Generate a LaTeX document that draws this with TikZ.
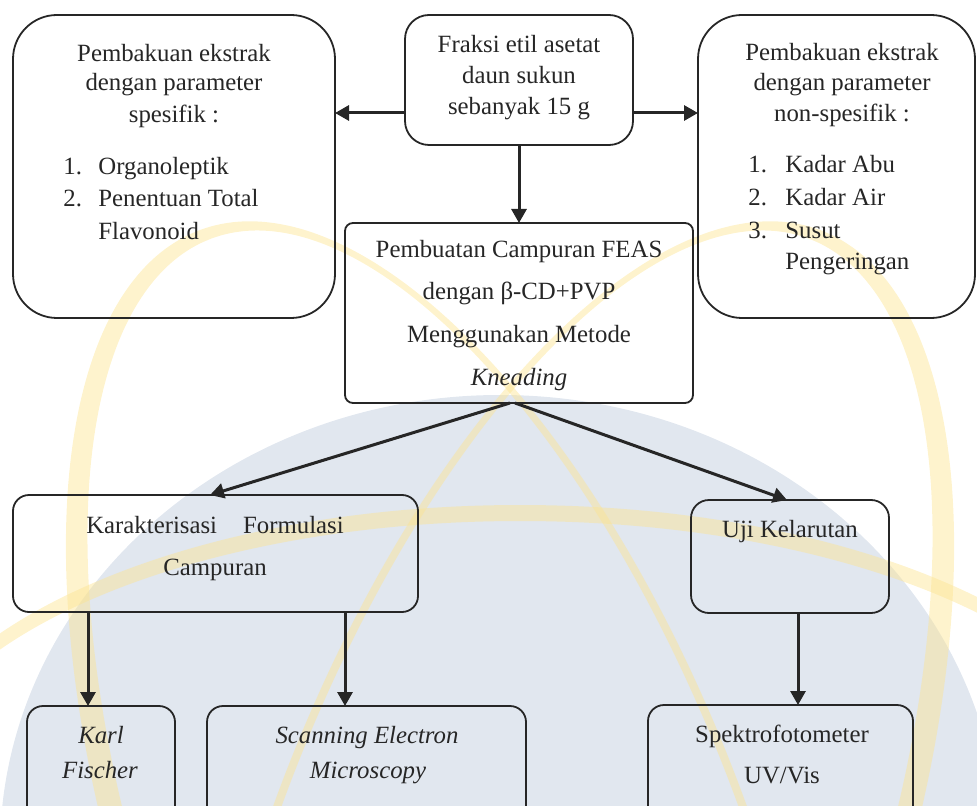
\documentclass[tikz,border=0pt]{standalone}
\usepackage{fontspec}
\setmainfont{Liberation Serif}
\usetikzlibrary{arrows.meta,calc}
\definecolor{wmgray}{RGB}{225,231,239}
\definecolor{wmyel}{RGB}{252,228,145}
\definecolor{ink}{RGB}{38,38,38}
\begin{document}
\begin{tikzpicture}[x=0.5pt,y=-0.5pt,
  box/.style={draw=ink, line width=0.9pt, inner sep=0pt, outer sep=0pt, rectangle},
  txt/.style={anchor=base, inner sep=0pt, font=\fontsize{12.4}{14}\selectfont, text=ink},
  txtl/.style={txt, anchor=base west},
  arr/.style={draw=ink, line width=1.5pt, -{Triangle[length=7pt,width=7.5pt]}},
  wm/.style={fill=wmyel, opacity=0.45, even odd rule}]
\useasboundingbox (0,0) rectangle (977,806);
\begin{scope}
\clip (0,0) rectangle (977,806);
% watermark
\fill[wmgray] (500,850) ellipse [x radius=500, y radius=455];
\fill[wm] (520,800) ellipse [x radius=630, y radius=295] (520,806) ellipse [x radius=622, y radius=285];
\fill[wm] plot[domain=0:360, samples=160, smooth cycle] ({450 + 715*cos(\x)*(-0.35) + 311*sin(\x)*0.937}, {900 + 715*cos(\x)*(-0.937) + 311*sin(\x)*(-0.35)})
  plot[domain=0:360, samples=160, smooth cycle] ({450 + 8*0.937 + 703*cos(\x)*(-0.35) + 295*sin(\x)*0.937}, {900 - 8*0.35 + 703*cos(\x)*(-0.937) + 295*sin(\x)*(-0.35)});
\fill[wm] plot[domain=0:360, samples=160, smooth cycle] ({570 + 715*cos(\x)*(0.35) + 311*sin(\x)*0.937}, {900 + 715*cos(\x)*(-0.937) + 311*sin(\x)*(0.35)})
  plot[domain=0:360, samples=160, smooth cycle] ({570 - 8*0.937 + 703*cos(\x)*(0.35) + 295*sin(\x)*0.937}, {900 - 8*0.35 + 703*cos(\x)*(-0.937) + 295*sin(\x)*(0.35)});
% boxes
\node[box, rounded corners=22pt, minimum width=161pt, minimum height=151.5pt] (L) at (174,166.5) {};
\node[box, rounded corners=12pt, minimum width=114pt, minimum height=65pt] (F) at (519,80) {};
\node[box, rounded corners=22pt, minimum width=138.5pt, minimum height=151.5pt] (R) at (836.5,166.5) {};
\node[box, rounded corners=4pt, minimum width=174pt, minimum height=90pt] (M) at (519,313) {};
\node[box, rounded corners=8pt, minimum width=202.5pt, minimum height=58.5pt] (K) at (215.5,553.5) {};
\node[box, rounded corners=9pt, minimum width=99pt, minimum height=56.5pt] (U) at (790,556.5) {};
\node[box, rounded corners=8pt, minimum width=74pt, minimum height=72pt] (KF) at (101,778) {};
\node[box, rounded corners=8pt, minimum width=159.5pt, minimum height=72pt] (SEM) at (366.5,778) {};
\node[box, rounded corners=8pt, minimum width=132.5pt, minimum height=72.5pt] (SP) at (780.5,777.5) {};
% connectors
\coordinate (hy) at (0,113);
\coordinate (a1) at (88,0);
\coordinate (a2) at (345,0);
\coordinate (a3) at (798,0);
\draw[arr] (F.west |- hy) -- (L.east |- hy);
\draw[arr] (F.east |- hy) -- (R.west |- hy);
\draw[arr] (F.south) -- (M.north);
\draw[arr] ([xshift=-4.5pt]M.south) -- ([xshift=-2.75pt]K.north);
\draw[arr] ([xshift=-2pt]M.south) -- ([xshift=-1.5pt]U.north);
\draw[arr] (K.south -| a1) -- (KF.north -| a1);
\draw[arr] (K.south -| a2) -- (SEM.north -| a2);
\draw[arr] (U.south -| a3) -- (SP.north -| a3);
% texts
\node[txt] (l1) at (174,62) {Pembakuan ekstrak};
\node[txt] (l2) at (174,91) {dengan parameter};
\node[txt] (l3) at (174,123) {spesifik :};
\node[txtl] (l4n) at (63,175) {1.};
\node[txtl] (l4) at (98,175) {Organoleptik};
\node[txtl] (l5n) at (63,207) {2.};
\node[txtl] (l5) at (98,207) {Penentuan Total};
\node[txtl] (l6) at (98,240) {Flavonoid};
\node[txt] (f1) at (519,53) {Fraksi etil asetat};
\node[txt] (f2) at (519,84) {daun sukun};
\node[txt] (f3) at (519,115) {sebanyak 15 g};
\node[txt] (r1) at (842,61) {Pembakuan ekstrak};
\node[txt] (r2) at (842,91) {dengan parameter};
\node[txt] (r3) at (842,122) {non-spesifik :};
\node[txtl] (r4n) at (748,173) {1.};
\node[txtl] (r4) at (785,173) {Kadar Abu};
\node[txtl] (r5n) at (748,206) {2.};
\node[txtl] (r5) at (785,206) {Kadar Air};
\node[txtl] (r6n) at (748,239) {3.};
\node[txtl] (r6) at (785,239) {Susut};
\node[txtl] (r7) at (785,270) {Pengeringan};
\node[txt] (m1) at (519,258) {Pembuatan Campuran FEAS};
\node[txt] (m2) at (519,300) {dengan β-CD+PVP};
\node[txt] (m3) at (519,343) {Menggunakan Metode};
\node[txt] (m4) at (519,385) {\itshape Kneading};
\node[txt] (k1) at (215,533) {Karakterisasi\hspace{13pt}Formulasi};
\node[txt] (k2) at (215,575) {Campuran};
\node[txt] (u1) at (790,537) {Uji Kelarutan};
\node[txt] (kf1) at (101,743) {\itshape Karl};
\node[txt] (kf2) at (100,778) {\itshape Fischer};
\node[txt] (s1) at (367,743) {\itshape Scanning Electron};
\node[txt] (s2) at (368,778) {\itshape Microscopy};
\node[txt] (p1) at (782,742) {Spektrofotometer};
\node[txt] (p2) at (782,783) {UV/Vis};
\end{scope}
\end{tikzpicture}
\end{document}
